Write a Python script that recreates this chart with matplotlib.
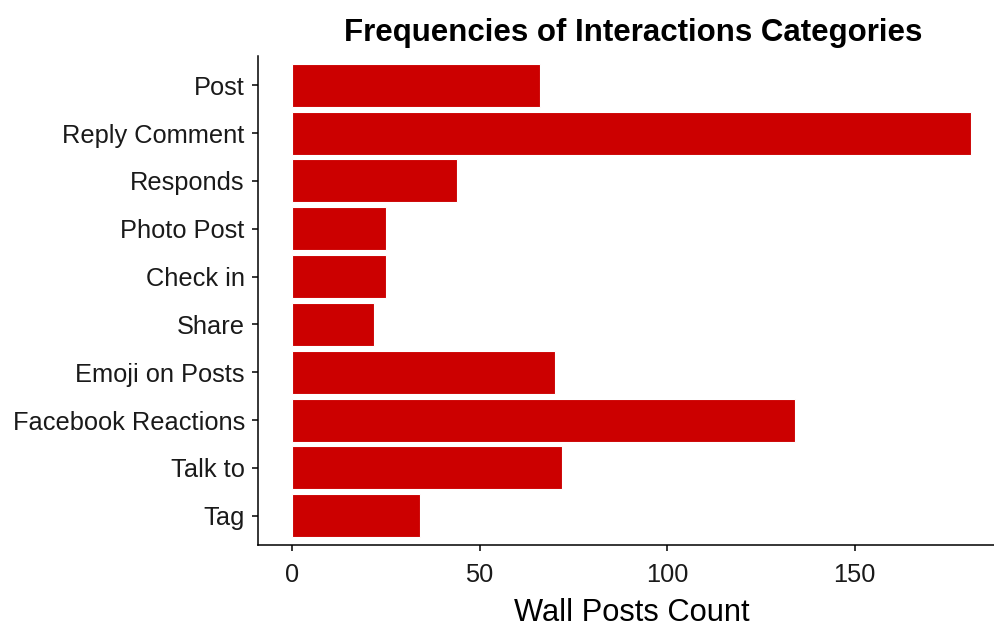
import matplotlib
matplotlib.use("Agg")
import matplotlib.pyplot as plt

categories = ["Post", "Reply Comment", "Responds", "Photo Post", "Check in",
              "Share", "Emoji on Posts", "Facebook Reactions", "Talk to", "Tag"]
counts = [66, 181, 44, 25, 25, 22, 70, 134, 72, 34]
xticks = [0, 50, 100, 150]

plt.rcParams['font.family'] = ['Liberation Sans', 'DejaVu Sans']

fig = plt.figure(figsize=(9.95, 6.27), dpi=100)
ax = fig.add_axes([258/995, 1-544.5/627, (1005-258)/995, (544.5-56.5)/627])

n = len(categories)
ypos = list(range(n, 0, -1))
ax.barh(ypos, counts, height=0.9, color="#CC0000", edgecolor="white", linewidth=0.8)

M = max(counts)
ax.set_xlim(-0.05*M, 1.05*M)
ax.set_ylim(0.4, n + 0.6)
ax.set_yticks(ypos)
ax.set_yticklabels(categories)
ax.set_xticks(xticks)
ax.set_xticklabels([str(t) for t in xticks])

for s in ["top", "right"]:
    ax.spines[s].set_visible(False)
for s in ["left", "bottom"]:
    ax.spines[s].set_linewidth(1.1)
    ax.spines[s].set_color("black")
ax.tick_params(axis="both", length=4.5, width=1.1, color="black",
               labelsize=18.3, labelcolor="#1a1a1a")
ax.tick_params(axis="x", pad=8.5)
ax.tick_params(axis="y", pad=5)

ax.set_xlabel("Wall Posts Count", fontsize=22.2, labelpad=8.5)
fig.text(633/995, 1-32.5/627, "Frequencies of Interactions Categories",
         ha="center", va="center", fontsize=22.5, fontweight="bold")

fig.savefig("out.png", dpi=100)
